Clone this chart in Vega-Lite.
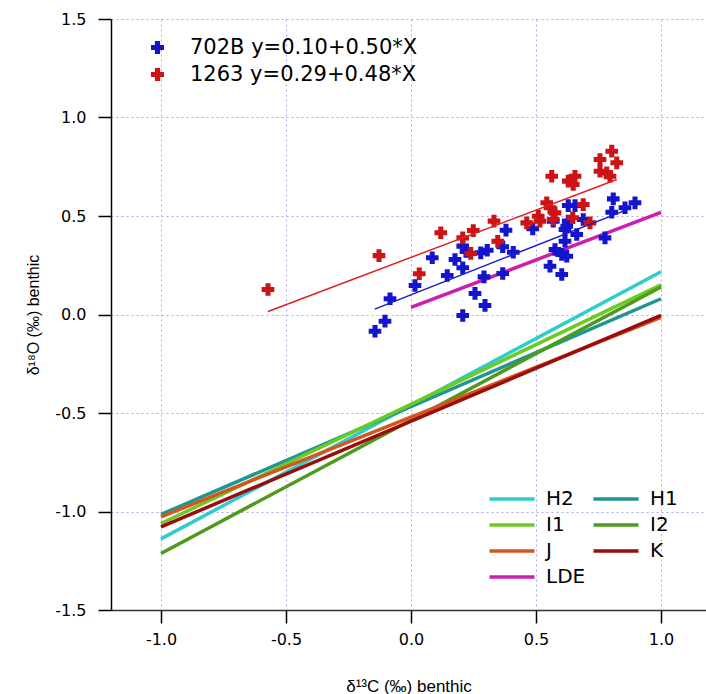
{
  "$schema": "https://vega.github.io/schema/vega-lite/v6.json",
  "width": 595,
  "height": 591,
  "autosize": {"type": "none"},
  "padding": {"left": 111, "top": 19, "right": 0, "bottom": 84},
  "background": "white",
  "config": {"view": {"stroke": null}, "font": "DejaVu Sans"},
  "datasets": {
    "models": [
      {"model": "H2", "x": -1, "y": -1.139}, {"model": "H2", "x": 1, "y": 0.217},
      {"model": "H1", "x": -1, "y": -1.015}, {"model": "H1", "x": 1, "y": 0.080},
      {"model": "I1", "x": -1, "y": -1.061}, {"model": "I1", "x": 1, "y": 0.150},
      {"model": "I2", "x": -1, "y": -1.213}, {"model": "I2", "x": 1, "y": 0.140},
      {"model": "J", "x": -1, "y": -1.027}, {"model": "J", "x": 1, "y": -0.015},
      {"model": "K", "x": -1, "y": -1.078}, {"model": "K", "x": 1, "y": -0.005},
      {"model": "LDE", "x": 0, "y": 0.036}, {"model": "LDE", "x": 1, "y": 0.518}
    ],
    "reg": [
      {"series": "702B", "x": -0.145, "y": 0.0275}, {"series": "702B", "x": 0.85, "y": 0.525},
      {"series": "1263", "x": -0.572, "y": 0.0154}, {"series": "1263", "x": 0.823, "y": 0.685}
    ],
    "pts": [
      {"series": "702B", "x": -0.144, "y": -0.085},
      {"series": "702B", "x": -0.104, "y": -0.034},
      {"series": "702B", "x": -0.084, "y": 0.080},
      {"series": "702B", "x": 0.016, "y": 0.147},
      {"series": "702B", "x": 0.085, "y": 0.288},
      {"series": "702B", "x": 0.145, "y": 0.198},
      {"series": "702B", "x": 0.176, "y": 0.279},
      {"series": "702B", "x": 0.207, "y": 0.237},
      {"series": "702B", "x": 0.207, "y": 0.347},
      {"series": "702B", "x": 0.220, "y": 0.320},
      {"series": "702B", "x": 0.207, "y": -0.005},
      {"series": "702B", "x": 0.256, "y": 0.107},
      {"series": "702B", "x": 0.296, "y": 0.046},
      {"series": "702B", "x": 0.279, "y": 0.313},
      {"series": "702B", "x": 0.305, "y": 0.326},
      {"series": "702B", "x": 0.292, "y": 0.191},
      {"series": "702B", "x": 0.367, "y": 0.344},
      {"series": "702B", "x": 0.367, "y": 0.208},
      {"series": "702B", "x": 0.380, "y": 0.428},
      {"series": "702B", "x": 0.409, "y": 0.316},
      {"series": "702B", "x": 0.487, "y": 0.435},
      {"series": "702B", "x": 0.569, "y": 0.474},
      {"series": "702B", "x": 0.629, "y": 0.553},
      {"series": "702B", "x": 0.656, "y": 0.553},
      {"series": "702B", "x": 0.629, "y": 0.474},
      {"series": "702B", "x": 0.623, "y": 0.448},
      {"series": "702B", "x": 0.616, "y": 0.431},
      {"series": "702B", "x": 0.689, "y": 0.482},
      {"series": "702B", "x": 0.663, "y": 0.406},
      {"series": "702B", "x": 0.776, "y": 0.389},
      {"series": "702B", "x": 0.616, "y": 0.372},
      {"series": "702B", "x": 0.576, "y": 0.330},
      {"series": "702B", "x": 0.603, "y": 0.305},
      {"series": "702B", "x": 0.623, "y": 0.296},
      {"series": "702B", "x": 0.556, "y": 0.245},
      {"series": "702B", "x": 0.603, "y": 0.203},
      {"series": "702B", "x": 0.809, "y": 0.587},
      {"series": "702B", "x": 0.896, "y": 0.567},
      {"series": "702B", "x": 0.856, "y": 0.542},
      {"series": "702B", "x": 0.803, "y": 0.519},
      {"series": "1263", "x": -0.572, "y": 0.127},
      {"series": "1263", "x": -0.128, "y": 0.299},
      {"series": "1263", "x": 0.033, "y": 0.207},
      {"series": "1263", "x": 0.119, "y": 0.415},
      {"series": "1263", "x": 0.207, "y": 0.389},
      {"series": "1263", "x": 0.249, "y": 0.426},
      {"series": "1263", "x": 0.239, "y": 0.310},
      {"series": "1263", "x": 0.332, "y": 0.474},
      {"series": "1263", "x": 0.347, "y": 0.372},
      {"series": "1263", "x": 0.463, "y": 0.465},
      {"series": "1263", "x": 0.509, "y": 0.499},
      {"series": "1263", "x": 0.516, "y": 0.474},
      {"series": "1263", "x": 0.543, "y": 0.567},
      {"series": "1263", "x": 0.556, "y": 0.542},
      {"series": "1263", "x": 0.576, "y": 0.516},
      {"series": "1263", "x": 0.569, "y": 0.482},
      {"series": "1263", "x": 0.563, "y": 0.702},
      {"series": "1263", "x": 0.629, "y": 0.677},
      {"series": "1263", "x": 0.656, "y": 0.702},
      {"series": "1263", "x": 0.649, "y": 0.660},
      {"series": "1263", "x": 0.647, "y": 0.491},
      {"series": "1263", "x": 0.689, "y": 0.558},
      {"series": "1263", "x": 0.716, "y": 0.465},
      {"series": "1263", "x": 0.756, "y": 0.787},
      {"series": "1263", "x": 0.756, "y": 0.727},
      {"series": "1263", "x": 0.783, "y": 0.719},
      {"series": "1263", "x": 0.796, "y": 0.702},
      {"series": "1263", "x": 0.803, "y": 0.829},
      {"series": "1263", "x": 0.823, "y": 0.770}
    ]
  },
  "layer": [
    {
      "data": {"name": "models"},
      "mark": {"type": "line", "strokeWidth": 3.5, "clip": true},
      "encoding": {
        "x": {
          "field": "x", "type": "quantitative",
          "scale": {"domain": [-1.2, 1.18], "nice": false, "zero": false},
          "axis": {
            "values": [-1, -0.5, 0, 0.5, 1],
            "labelExpr": "datum.value < 0 ? '-' + format(abs(datum.value), '.1f') : format(datum.value, '.1f')",
            "title": "δ¹³C (‰) benthic",
            "grid": true, "gridColor": "#ABABEB", "gridDash": [2, 3], "gridWidth": 1,
            "domainColor": "#333333", "domainWidth": 1.5,
            "tickColor": "#000000", "tickSize": 13, "tickWidth": 1.5,
            "labelFontSize": 16, "labelPadding": 8, "labelColor": "#000000", "labelFont": "DejaVu Sans",
            "titleFont": "Liberation Sans", "titleFontSize": 17, "titleFontWeight": "normal", "titleColor": "#000000",
            "titleY": 76, "titleBaseline": "middle"
          }
        },
        "y": {
          "field": "y", "type": "quantitative",
          "scale": {"domain": [-1.5, 1.5], "nice": false, "zero": false},
          "axis": {
            "values": [-1.5, -1, -0.5, 0, 0.5, 1, 1.5],
            "labelExpr": "datum.value < 0 ? '-' + format(abs(datum.value), '.1f') : format(datum.value, '.1f')",
            "title": "δ¹⁸O (‰) benthic",
            "grid": true, "gridColor": "#ABABEB", "gridDash": [2, 3], "gridWidth": 1,
            "domainColor": "#000000", "domainWidth": 1.5,
            "tickColor": "#000000", "tickSize": 13, "tickWidth": 1.5,
            "labelFontSize": 16, "labelPadding": 12, "labelColor": "#000000", "labelFont": "DejaVu Sans",
            "titleFont": "Liberation Sans", "titleFontSize": 16, "titleFontWeight": "normal", "titleColor": "#000000",
            "titleX": -78, "titleY": 295.5, "titleBaseline": "middle", "titleAngle": -90
          }
        },
        "stroke": {
          "field": "model", "type": "nominal",
          "scale": {
            "domain": ["H2", "H1", "I1", "I2", "J", "K", "LDE"],
            "range": ["#2DCDCD", "#1E9696", "#6CCB22", "#4E9A1C", "#D4561C", "#9B0D0D", "#CC1FAF"]
          },
          "legend": {
            "title": null, "orient": "none", "legendX": 387, "legendY": 466, "padding": 0,
            "direction": "horizontal", "columns": 2, "columnPadding": 0, "rowPadding": 2,
            "symbolType": "M-1.875,0H1.875", "symbolSize": 576, "symbolStrokeWidth": 3.5,
            "labelFontSize": 20, "labelOffset": 20, "labelColor": "#000000", "labelFont": "DejaVu Sans"
          }
        }
      }
    },
    {
      "data": {"name": "pts"},
      "mark": {"type": "point", "shape": "cross", "filled": true, "size": 160, "opacity": 1, "strokeWidth": 0},
      "encoding": {
        "x": {"field": "x", "type": "quantitative", "scale": {"domain": [-1.2, 1.18], "nice": false, "zero": false}},
        "y": {"field": "y", "type": "quantitative", "scale": {"domain": [-1.5, 1.5], "nice": false, "zero": false}},
        "fill": {
          "field": "series", "type": "nominal",
          "scale": {"domain": ["702B", "1263"], "range": ["#1414CC", "#CC1414"]},
          "legend": {
            "title": null, "orient": "none", "legendX": 36, "legendY": 18, "padding": 0,
            "symbolType": "cross", "symbolSize": 169, "symbolStrokeWidth": 0, "symbolOpacity": 1,
            "rowPadding": 5, "labelOffset": 22, "labelLimit": 0,
            "labelFontSize": 21, "labelColor": "#000000", "labelFont": "DejaVu Sans",
            "labelExpr": "datum.label == '702B' ? '702B y=0.10+0.50*X' : '1263 y=0.29+0.48*X'"
          }
        }
      }
    },
    {
      "data": {"name": "reg"},
      "transform": [{"filter": "datum.series == '702B'"}],
      "mark": {"type": "line", "color": "#1A1ACC", "strokeWidth": 1.5},
      "encoding": {
        "x": {"field": "x", "type": "quantitative", "scale": {"domain": [-1.2, 1.18], "nice": false, "zero": false}},
        "y": {"field": "y", "type": "quantitative", "scale": {"domain": [-1.5, 1.5], "nice": false, "zero": false}}
      }
    },
    {
      "data": {"name": "reg"},
      "transform": [{"filter": "datum.series == '1263'"}],
      "mark": {"type": "line", "color": "#E02020", "strokeWidth": 1.5},
      "encoding": {
        "x": {"field": "x", "type": "quantitative", "scale": {"domain": [-1.2, 1.18], "nice": false, "zero": false}},
        "y": {"field": "y", "type": "quantitative", "scale": {"domain": [-1.5, 1.5], "nice": false, "zero": false}}
      }
    }
  ]
}
